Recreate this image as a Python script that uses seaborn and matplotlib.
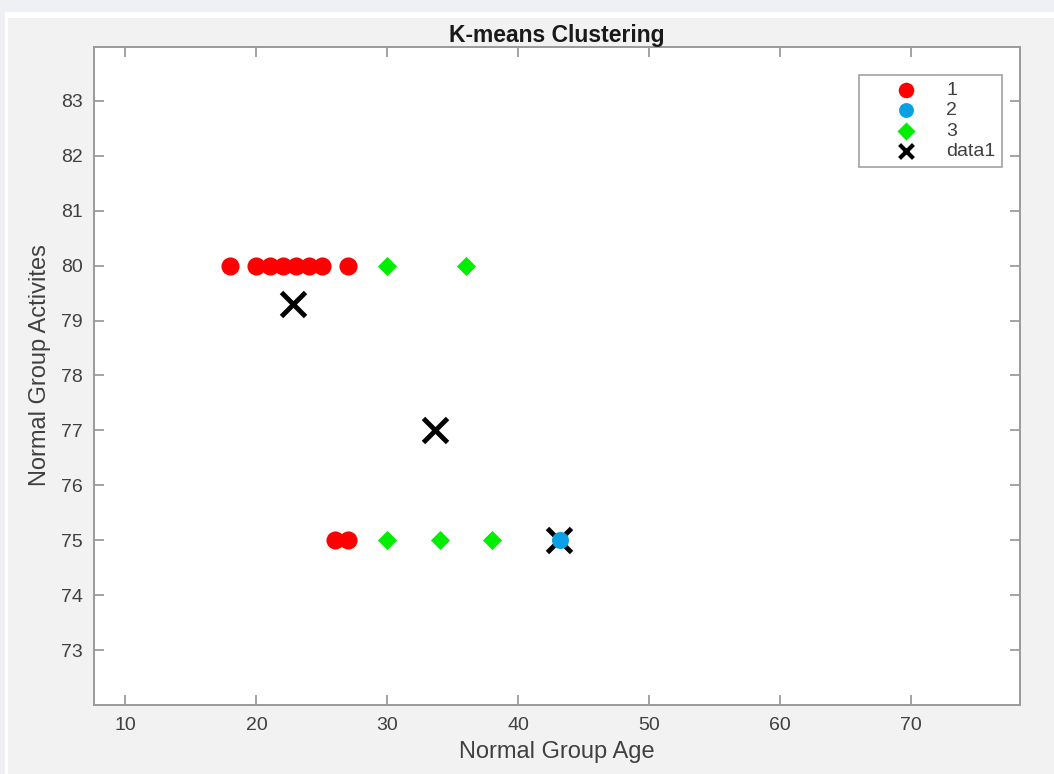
import matplotlib
matplotlib.use("Agg")
import matplotlib.pyplot as plt
from matplotlib.patches import Rectangle
import seaborn as sns
import pandas as pd

# Cluster members (Normal Group Age, Normal Group Activites)
c1_age = [18, 20, 21, 22, 23, 24, 25, 27, 26, 27]
c1_act = [80, 80, 80, 80, 80, 80, 80, 80, 75, 75]
c2_age = [43.2]
c2_act = [75]
c3_age = [30, 36, 30, 34, 38]
c3_act = [80, 80, 75, 75, 75]
# Cluster centroids
cen_age = [22.8, 33.6, 43.1]
cen_act = [79.3, 77.0, 75.0]

x_ticks = [10, 20, 30, 40, 50, 60, 70]
y_ticks = [73, 74, 75, 76, 77, 78, 79, 80, 81, 82, 83]

sns.set_theme(style="white")
plt.rcParams["font.family"] = ["Liberation Sans", "DejaVu Sans"]

W, H = 1054, 774
fig = plt.figure(figsize=(W / 100, H / 100), dpi=100, facecolor="#eef0f3")

# window frame: white edge line and light grey panel
fig.patches.append(Rectangle((5 / W, 0), 1, 1 - 12 / H, transform=fig.transFigure,
                             facecolor="#ffffff", edgecolor="none", zorder=-3))
fig.patches.append(Rectangle((8 / W, 0), 1, 1 - 18 / H, transform=fig.transFigure,
                             facecolor="#f2f2f2", edgecolor="none", zorder=-2))

ax = fig.add_axes([94 / W, 1 - 705 / H, (1020 - 94) / W, (705 - 47) / H])
ax.set_facecolor("white")

d1 = pd.DataFrame({"age": c1_age, "act": c1_act})
d2 = pd.DataFrame({"age": c2_age, "act": c2_act})
d3 = pd.DataFrame({"age": c3_age, "act": c3_act})
dc = pd.DataFrame({"age": cen_age, "act": cen_act})

sns.scatterplot(data=d1, x="age", y="act", ax=ax, color="#ff0000", marker="o",
                s=170, linewidth=0, label="1", zorder=3)
sns.scatterplot(data=d2, x="age", y="act", ax=ax, color="#0aa0e6", marker="o",
                s=150, linewidth=0, label="2", zorder=5)
sns.scatterplot(data=d3, x="age", y="act", ax=ax, color="#00ee00", marker="D",
                s=95, linewidth=0, label="3", zorder=3)
sns.scatterplot(data=dc, x="age", y="act", ax=ax, color="black", marker="x",
                s=300, linewidth=3.5, label="data1", zorder=4)

ax.set_xlim(7.6, 78.3)
ax.set_ylim(72.0, 83.98)
ax.set_xticks(x_ticks)
ax.set_yticks(y_ticks)

tick_color = "#404040"
for sp in ax.spines.values():
    sp.set_color("#9a9a9a")
    sp.set_linewidth(1.4)
ax.tick_params(axis="both", which="both", direction="in", length=7, width=1.1,
               color="#8a8a8a", labelcolor=tick_color, labelsize=14,
               top=True, right=True, bottom=True, left=True)
ax.tick_params(axis="x", pad=9)
ax.tick_params(axis="y", pad=8)

ax.set_xlabel("Normal Group Age", fontsize=17, color="#404040", labelpad=5)
ax.set_ylabel("Normal Group Activites", fontsize=17, color="#404040")
ax.yaxis.set_label_coords(-0.046, 0.517)
ax.set_title("K-means Clustering", fontsize=16.5, fontweight="bold", color="#1a1a1a",
             pad=0, y=1.008)

leg = ax.legend(loc="upper right", bbox_to_anchor=(0.981, 0.958), fancybox=False,
                frameon=True, fontsize=14, handletextpad=0.05, borderpad=0.35,
                labelspacing=0.14, handlelength=4.1, borderaxespad=0)
leg.get_frame().set_edgecolor("#8a8a8a")
leg.get_frame().set_linewidth(1.2)
leg.get_frame().set_facecolor("white")
for t in leg.get_texts():
    t.set_color("#404040")
for h, sz in zip(leg.legend_handles, [125, 115, 85, 100]):
    h.set_sizes([sz])
leg.legend_handles[3].set_linewidth(3.0)

fig.savefig("out.png", dpi=100, facecolor=fig.get_facecolor())
